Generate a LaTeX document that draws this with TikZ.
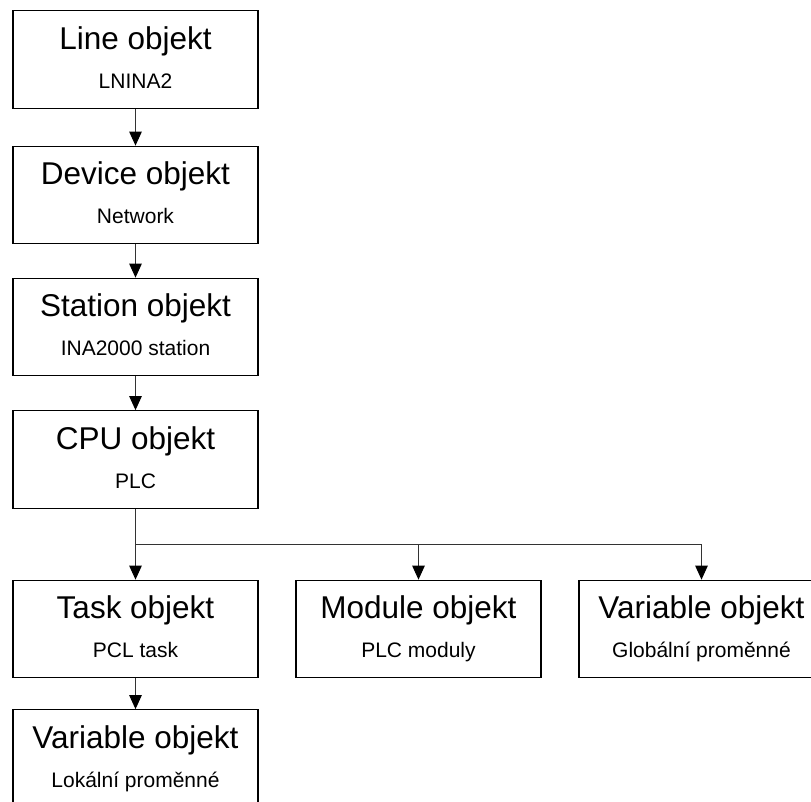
\documentclass[tikz,border=0pt]{standalone}
\usepackage{fontspec}
\setmainfont{Liberation Sans}
\usepackage{tikz}
\usetikzlibrary{shapes,arrows}
\usetikzlibrary{arrows.meta}
\usetikzlibrary{calc}

\newcommand{\objtitle}[2]{{\fontsize{31.5}{31.5}\selectfont #1}\\#2\vphantom{y}}

\begin{document}
\begin{tikzpicture}
        \tikzstyle{block} = [rectangle, draw, line width=1.2pt, align=center, minimum width=245pt, minimum height=97.5pt, inner sep=0pt, font=\fontsize{21}{38.6}\selectfont]
        \tikzstyle{line} = [draw, black!80, line width=1pt, -{Triangle[length=14pt, width=12.5pt, color=black]}]

        \useasboundingbox (0pt,0pt) rectangle (811pt,-802pt);

        \node [block] (lineobj) at (135.5pt,-59.5pt) {\objtitle{Line objekt}{LNINA2}};
        \node [block, below of=lineobj, node distance=135.5pt] (device) {\objtitle{Device objekt}{Network}};
        \node [block, below of=device, node distance=132pt] (station) {\objtitle{Station objekt}{INA2000 station}};
        \node [block, below of=station, node distance=132.5pt] (cpu) {\objtitle{CPU objekt}{PLC}};
        \node [block, below of=cpu, node distance=169.5pt] (task) {\objtitle{Task objekt}{PCL task}};
        \node [block, right of=task, node distance=283pt] (module) {\objtitle{Module objekt}{PLC moduly}};
        \node [block, right of=module, node distance=283pt] (globvar) {\objtitle{Variable objekt}{Globální proměnné}};
        \node [block, below of=task, node distance=129.5pt] (locvar) {\objtitle{Variable objekt}{Lokální proměnné}};

        \coordinate (bus) at ($(cpu.south)!0.5!(task.north)$);

        \path [line] (lineobj) -- (device);
        \path [line] (device) -- (station);
        \path [line] (station) -- (cpu);
        \path [line] (cpu) -- (task);
        \path [line] (bus) -| (globvar);
        \path [line] (bus -| module) -- (module);
        \path [line] (task) -- (locvar);
    \end{tikzpicture}
\end{document}
